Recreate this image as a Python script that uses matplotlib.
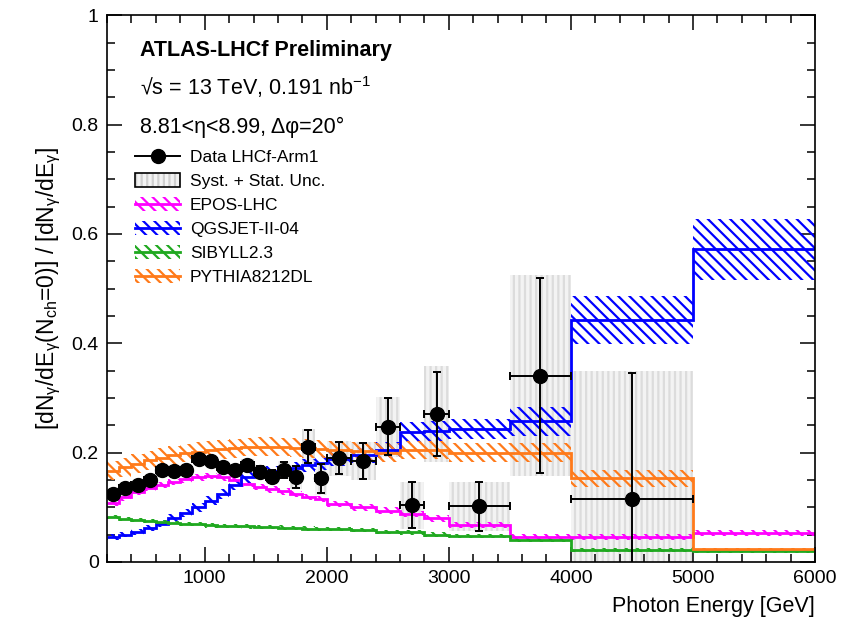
import numpy as np
import matplotlib
matplotlib.use("Agg")
import matplotlib.pyplot as plt
from matplotlib.patches import Patch
from matplotlib.lines import Line2D
from matplotlib.ticker import MultipleLocator

plt.rcParams["font.family"] = ["Liberation Sans", "DejaVu Sans"]
plt.rcParams["mathtext.fontset"] = "custom"
plt.rcParams["mathtext.rm"] = "Liberation Sans"
plt.rcParams["mathtext.it"] = "Liberation Sans"
plt.rcParams["mathtext.bf"] = "Liberation Sans:bold"
plt.rcParams["hatch.linewidth"] = 1.6

# bin edges [GeV]
edges = np.array([200, 300, 400, 500, 600, 700, 800, 900, 1000, 1100, 1200, 1300,
                  1400, 1500, 1600, 1700, 1800, 1900, 2000, 2200, 2400, 2600, 2800,
                  3000, 3500, 4000, 5000, 6000])

# data LHCf-Arm1 (first 26 bins)
data_y = [0.124, 0.135, 0.140, 0.150, 0.168, 0.167, 0.169, 0.189, 0.184, 0.174,
          0.168, 0.177, 0.165, 0.156, 0.168, 0.156, 0.211, 0.153, 0.190, 0.185,
          0.247, 0.104, 0.270, 0.102, 0.341, 0.115]
data_stat = [0.004, 0.004, 0.004, 0.004, 0.005, 0.005, 0.005, 0.006, 0.007, 0.008,
             0.009, 0.010, 0.010, 0.012, 0.015, 0.020, 0.030, 0.027, 0.030, 0.033,
             0.052, 0.042, 0.077, 0.045, 0.178, 0.230]
data_syst = [0.006, 0.006, 0.006, 0.006, 0.007, 0.007, 0.007, 0.008, 0.009, 0.010,
             0.011, 0.012, 0.012, 0.014, 0.017, 0.022, 0.032, 0.030, 0.032, 0.035,
             0.055, 0.043, 0.088, 0.045, 0.183, 0.235]

# models (all 27 bins): central value and band half-width
epos = [0.108, 0.118, 0.128, 0.135, 0.141, 0.146, 0.151, 0.155, 0.157, 0.155,
        0.150, 0.143, 0.137, 0.133, 0.129, 0.124, 0.119, 0.115, 0.106, 0.100,
        0.094, 0.088, 0.080, 0.068, 0.046, 0.046, 0.053]
epos_err = [0.006] * 27
qgsjet = [0.046, 0.050, 0.055, 0.062, 0.070, 0.080, 0.090, 0.100, 0.112, 0.125,
          0.140, 0.155, 0.163, 0.166, 0.168, 0.172, 0.177, 0.181, 0.188, 0.195,
          0.205, 0.238, 0.240, 0.243, 0.257, 0.442, 0.572]
qgsjet_err = [0.005, 0.005, 0.005, 0.006, 0.006, 0.007, 0.007, 0.008, 0.008, 0.009,
              0.009, 0.010, 0.010, 0.010, 0.011, 0.011, 0.012, 0.012, 0.013, 0.014,
              0.015, 0.018, 0.018, 0.018, 0.026, 0.044, 0.056]
sibyll = [0.082, 0.079, 0.077, 0.075, 0.073, 0.071, 0.070, 0.069, 0.067, 0.066,
          0.066, 0.065, 0.064, 0.064, 0.063, 0.062, 0.061, 0.060, 0.060, 0.058,
          0.055, 0.054, 0.050, 0.048, 0.041, 0.022, 0.020]
sibyll_err = [0.004] * 27
pythia = [0.167, 0.173, 0.180, 0.186, 0.191, 0.195, 0.199, 0.202, 0.204, 0.206,
          0.208, 0.210, 0.211, 0.211, 0.210, 0.209, 0.208, 0.207, 0.205, 0.203,
          0.200, 0.205, 0.205, 0.200, 0.200, 0.153, 0.023]
pythia_err = [0.017] * 24 + [0.018, 0.015, 0.003]

models = [
    ("EPOS-LHC", epos, epos_err, "#ff00ff"),
    ("QGSJET-II-04", qgsjet, qgsjet_err, "#0000ff"),
    ("SIBYLL2.3", sibyll, sibyll_err, "#1fa81f"),
    ("PYTHIA8212DL", pythia, pythia_err, "#ff7a1a"),
]

fig = plt.figure(figsize=(8.59, 6.34), dpi=100)
ax = fig.add_axes([0.1246, 0.1136, 0.8242, 0.8624])

nd = len(data_y)
centers = 0.5 * (edges[:-1] + edges[1:])
halfw = 0.5 * (edges[1:] - edges[:-1])
dy = np.array(data_y)
dsys = np.array(data_syst)

# syst + stat boxes
ax.bar(centers[:nd], 2 * dsys, bottom=dy - dsys, width=2 * halfw[:nd],
       facecolor="#f3f3f3", edgecolor="#dcdcdc", hatch="|||", linewidth=0, zorder=1)

# model bands and lines
handles = []
for name, vals, err, col in models:
    v = np.array(vals)
    e = np.array(err)
    ax.stairs(v + e, edges, baseline=v - e, fill=True, facecolor="none",
              edgecolor=col, hatch="\\\\\\", linewidth=0, zorder=2)
    ax.stairs(v, edges, color=col, linewidth=2, zorder=2.5, baseline=None)
    handles.append(((Patch(facecolor="none", edgecolor=col, hatch="\\\\\\", linewidth=0),
                     Line2D([], [], color=col, linewidth=2)), name))

# data
ax.errorbar(centers[:nd], dy, xerr=halfw[:nd], yerr=data_stat, fmt="o", color="black",
            markersize=10, elinewidth=1.4, capsize=3, capthick=1.4, zorder=3)

ax.set_xlim(200, 6000)
ax.set_ylim(0, 1)
ax.set_xticks([1000, 2000, 3000, 4000, 5000, 6000])
ax.set_yticks([0, 0.2, 0.4, 0.6, 0.8, 1.0])
ax.set_yticklabels(["0", "0.2", "0.4", "0.6", "0.8", "1"])
ax.xaxis.set_minor_locator(MultipleLocator(200))
ax.yaxis.set_minor_locator(MultipleLocator(0.05))
ax.tick_params(which="both", direction="in", top=True, right=True, labelsize=14, width=1.1)
ax.tick_params(which="major", length=11, pad=6)
ax.tick_params(which="minor", length=5.5)
for s in ax.spines.values():
    s.set_linewidth(1.2)

ax.set_xlabel("Photon Energy [GeV]", fontsize=15.5, loc="right", labelpad=6)
ax.set_ylabel(r"[dN$_{\gamma}$/dE$_{\gamma}$(N$_{ch}$=0)] / [dN$_{\gamma}$/dE$_{\gamma}$]",
              fontsize=16.5, labelpad=6)

ax.text(0.047, 0.935, "ATLAS-LHCf Preliminary", transform=ax.transAxes,
        fontsize=15.5, fontweight="bold", va="center")
ax.text(0.047, 0.868, r"√s = 13 TeV, 0.191 nb$^{-1}$", transform=ax.transAxes,
        fontsize=15.5, va="center")
ax.text(0.047, 0.795, "8.81<η<8.99, Δφ=20°", transform=ax.transAxes,
        fontsize=15.5, va="center")

data_h = Line2D([], [], color="black", marker="o", markersize=10, linewidth=1.4)
syst_h = (Patch(facecolor="#f3f3f3", edgecolor="#d0d0d0", hatch="|||", linewidth=0),
          Patch(facecolor="none", edgecolor="black", linewidth=1.2))
leg_handles = [data_h, syst_h] + [h for h, _ in handles]
leg_labels = ["Data LHCf-Arm1", "Syst. + Stat. Unc."] + [n for _, n in handles]
ax.legend(leg_handles, leg_labels, loc="upper left", bbox_to_anchor=(0.03, 0.768),
          frameon=False, fontsize=12.5, handlelength=2.6, handleheight=0.9,
          labelspacing=0.45, handletextpad=0.55, borderaxespad=0)

fig.savefig("out.png", dpi=100)
